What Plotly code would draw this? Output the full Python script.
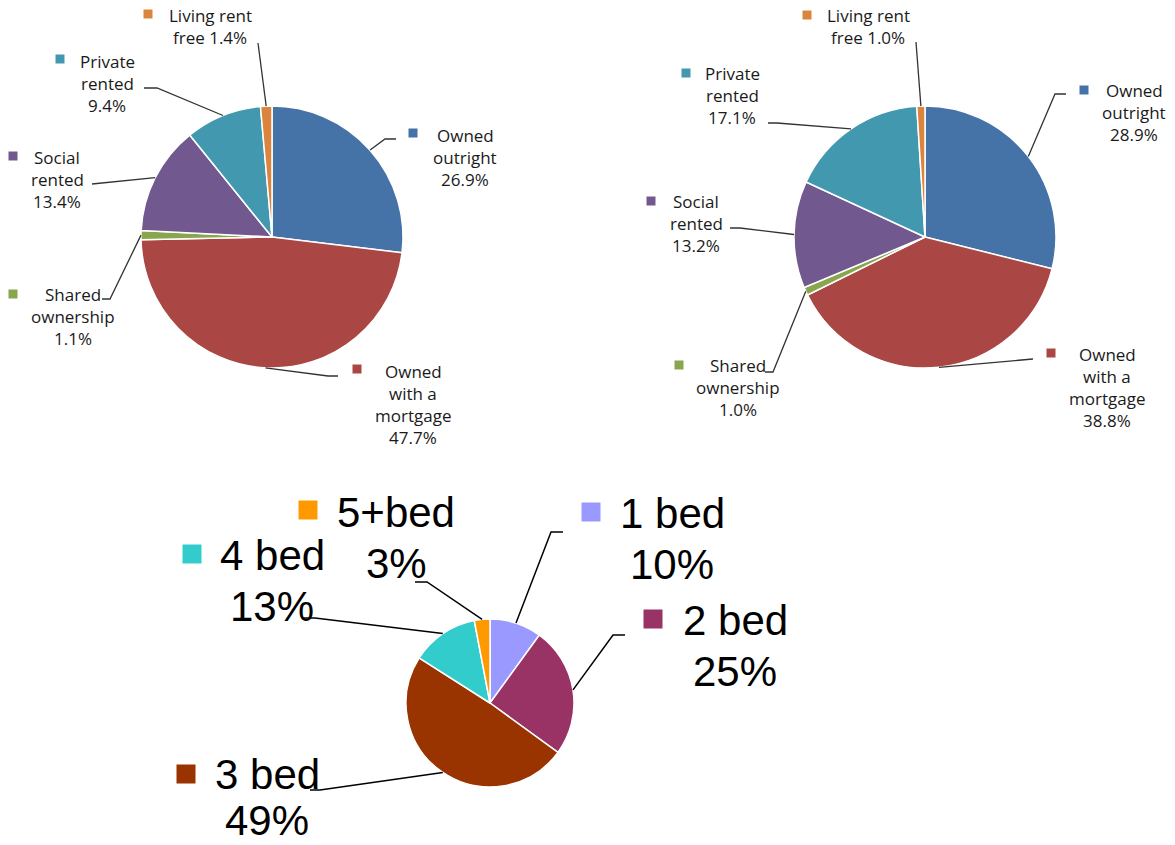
import math
import plotly.graph_objects as go

W, H = 1175, 845

# ---------------- data ----------------
tenure_categories = ["Owned outright", "Owned with a mortgage", "Shared ownership",
                     "Social rented", "Private rented", "Living rent free"]
tenure_values_a = [26.9, 47.7, 1.1, 13.4, 9.4, 1.4]
tenure_values_b = [28.9, 38.8, 1.0, 13.2, 17.1, 1.0]
tenure_label_lines = [["Owned", "outright", "{v}"],
                      ["Owned", "with a", "mortgage", "{v}"],
                      ["Shared", "ownership", "{v}"],
                      ["Social", "rented", "{v}"],
                      ["Private", "rented", "{v}"],
                      ["Living rent", "free {v}"]]
tenure_colors = ["#4572A7", "#AA4643", "#89A54E", "#71588F", "#4198AF", "#DB843D"]

bed_categories = ["1 bed", "2 bed", "3 bed", "4 bed", "5+bed"]
bed_values = [10, 25, 49, 13, 3]
bed_colors = ["#9999FF", "#993366", "#993300", "#33CCCC", "#FF9900"]

# ---------------- layout config (pixels) ----------------
pies = [
    dict(cats=tenure_categories, vals=tenure_values_a, colors=tenure_colors,
         lines=tenure_label_lines, fmt="{:.1f}%", cx=272, cy=237, r=131,
         font=dict(family="Open Sans", size=17, color="#1a1a1a"), sq=9, sp=22,
         lc="#333333", lw=1.3,
         lab=[dict(sq=(413, 133), tx=465, ty=135, pts=[(396, 139), (385, 139)]),
              dict(sq=(357, 369), tx=413, ty=371, pts=[(338, 376), (328, 376)]),
              dict(sq=(13, 294), tx=73, ty=294, pts=[(102, 299), (110, 299)]),
              dict(sq=(13, 156), tx=57, ty=157, pts=[(92, 184)]),
              dict(sq=(60, 59), tx=107, ty=61, pts=[(144, 88), (157, 88)]),
              dict(sq=(148, 14), tx=210, ty=15, pts=[(258, 43)])]),
    dict(cats=tenure_categories, vals=tenure_values_b, colors=tenure_colors,
         lines=tenure_label_lines, fmt="{:.1f}%", cx=925, cy=237, r=131,
         font=dict(family="Open Sans", size=17, color="#1a1a1a"), sq=9, sp=22,
         lc="#333333", lw=1.3,
         lab=[dict(sq=(1084, 90), tx=1134, ty=90, pts=[(1066, 94), (1055, 94)]),
              dict(sq=(1051, 353), tx=1107, ty=354, pts=[(1033, 359)]),
              dict(sq=(679, 365), tx=738, ty=365, pts=[(765, 372), (773, 372)]),
              dict(sq=(651, 201), tx=696, ty=201, pts=[(730, 228), (740, 228)]),
              dict(sq=(686, 73), tx=732, ty=73, pts=[(768, 123), (777, 123)]),
              dict(sq=(807, 15), tx=868, ty=15, pts=[(916, 42)])]),
    dict(cats=bed_categories, vals=bed_values, colors=bed_colors,
         lines=[[c, "{v}"] for c in bed_categories], fmt="{:.0f}%", cx=490, cy=703, r=84,
         font=dict(family="Liberation Sans", size=42, color="#000000"), sq=19, sp=51,
         lc="#000000", lw=1.5,
         lab=[dict(sq=(591, 512), tx=672, ty=513, pts=[(563, 532), (551, 532)]),
              dict(sq=(653, 619), tx=735, ty=620, pts=[(625, 635), (613, 635)]),
              dict(sq=(186, 774), tx=267, ty=774, sp=46, pts=[(310, 790), (320, 790)]),
              dict(sq=(192, 554), tx=272, ty=555, pts=[(303, 618), (315, 618)]),
              dict(sq=(308, 510), tx=396, ty=512, pts=[(415, 582), (427, 582)])]),
]


def mid_point(vals, i, cx, cy, r):
    total = sum(vals)
    frac = (sum(vals[:i]) + vals[i] / 2.0) / total
    a = 2 * math.pi * frac
    return cx + r * math.sin(a), cy - r * math.cos(a)


fig = go.Figure()
shapes = []
annotations = []

for p in pies:
    cx, cy, r = p["cx"], p["cy"], p["r"]
    fig.add_trace(go.Pie(
        labels=p["cats"], values=p["vals"], sort=False, direction="clockwise",
        rotation=0, textinfo="none", hoverinfo="label+percent",
        marker=dict(colors=p["colors"], line=dict(color="white", width=1.5)),
        domain=dict(x=[(cx - r) / W, (cx + r) / W], y=[1 - (cy + r) / H, 1 - (cy - r) / H]),
        showlegend=False,
    ))
    for i, lab in enumerate(p["lab"]):
        # leader line: label side points then slice mid-point on the pie edge
        ex, ey = mid_point(p["vals"], i, cx, cy, r)
        pts = list(lab["pts"]) + [(ex, ey)]
        path = "M " + " L ".join(f"{x:.1f},{y:.1f}" for x, y in pts)
        shapes.append(dict(type="path", xref="x", yref="y", path=path,
                           line=dict(color=p["lc"], width=p["lw"])))
        # colour key square
        sx, sy = lab["sq"]
        h = p["sq"] / 2.0
        shapes.append(dict(type="rect", xref="x", yref="y", x0=sx - h, x1=sx + h,
                           y0=sy - h, y1=sy + h, fillcolor=p["colors"][i], line=dict(width=0)))
        # text lines
        vtxt = p["fmt"].format(p["vals"][i])
        sp = lab.get("sp", p["sp"])
        for k, line in enumerate(p["lines"][i]):
            annotations.append(dict(
                x=lab["tx"], y=lab["ty"] + k * sp, xref="x", yref="y",
                text=line.replace("{v}", vtxt), showarrow=False,
                xanchor="center", yanchor="middle", font=p["font"]))

fig.update_layout(
    width=W, height=H, margin=dict(l=0, r=0, t=0, b=0),
    paper_bgcolor="white", plot_bgcolor="rgba(0,0,0,0)",
    xaxis=dict(range=[0, W], visible=False, fixedrange=True, domain=[0, 1]),
    yaxis=dict(range=[H, 0], visible=False, fixedrange=True, domain=[0, 1]),
    shapes=shapes, annotations=annotations, showlegend=False,
)

fig.write_html("out.html", config={"displayModeBar": False},
               post_script="document.body.style.margin='0';document.body.style.overflow='hidden';")
